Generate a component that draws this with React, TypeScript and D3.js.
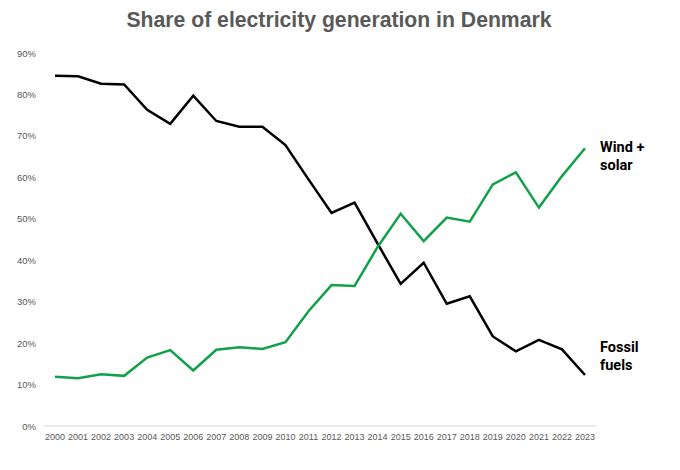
import * as d3 from 'd3';
import { useEffect, useRef } from 'react';

const years = d3.range(2000, 2024);
const fossil = [84.5, 84.4, 82.6, 82.4, 76.3, 72.9, 79.7, 73.6, 72.2, 72.2, 67.8, 59.5, 51.4, 53.9, 44.0, 34.3, 39.4, 29.5, 31.3, 21.6, 18.0, 20.8, 18.5, 12.3];
const windSolar = [11.9, 11.5, 12.5, 12.1, 16.5, 18.3, 13.4, 18.4, 19.0, 18.6, 20.2, 27.7, 34.0, 33.8, 43.2, 51.2, 44.6, 50.3, 49.3, 58.3, 61.2, 52.7, 60.3, 67.0];
const yTicks = [0, 10, 20, 30, 40, 50, 60, 70, 80, 90];

const W = 680;
const H = 470;

const drawChart = (container: HTMLElement) => {
  const x = d3.scaleLinear().domain([2000, 2023]).range([55, 585]);
  const y = d3.scaleLinear().domain([0, 90]).range([426, 53]);

  const svg = d3.select(container).append('svg')
    .attr('width', W)
    .attr('height', H)
    .style('display', 'block')
    .style('font-family', 'Arial, "Liberation Sans", sans-serif');

  svg.append('text')
    .attr('x', 339)
    .attr('y', 27)
    .attr('text-anchor', 'middle')
    .attr('font-size', 21.2)
    .attr('font-weight', 'bold')
    .attr('fill', '#595959')
    .text('Share of electricity generation in Denmark');

  // y labels, no grid
  svg.append('g')
    .selectAll('text')
    .data(yTicks)
    .join('text')
    .attr('x', 36)
    .attr('y', d => y(d) + 3.5)
    .attr('text-anchor', 'end')
    .attr('font-size', 9.5)
    .attr('fill', '#595959')
    .text(d => `${d}%`);

  svg.append('line')
    .attr('x1', 44).attr('x2', 596)
    .attr('y1', y(0)).attr('y2', y(0))
    .attr('stroke', '#e3e3e3')
    .attr('stroke-width', 1.5);

  svg.append('g')
    .selectAll('text')
    .data(years)
    .join('text')
    .attr('x', d => x(d))
    .attr('y', 440)
    .attr('text-anchor', 'middle')
    .attr('font-size', 9)
    .attr('fill', '#595959')
    .text(d => d);

  const line = d3.line<number>()
    .x((d, i) => x(years[i]))
    .y(d => y(d));

  svg.append('path')
    .attr('fill', 'none')
    .attr('stroke', '#000')
    .attr('stroke-width', 2.5)
    .attr('d', line(fossil));

  svg.append('path')
    .attr('fill', 'none')
    .attr('stroke', '#12a14b')
    .attr('stroke-width', 2.5)
    .attr('d', line(windSolar));

  const labels = [
    { lines: ['Wind +', 'solar'], top: 147 },
    { lines: ['Fossil', 'fuels'], top: 347 },
  ];
  labels.forEach(l => {
    l.lines.forEach((t, i) => {
      svg.append('text')
        .attr('x', 600)
        .attr('y', l.top + 5 + i * 18)
        .attr('font-family', 'Roboto, sans-serif')
        .attr('font-size', 14.5)
        .attr('font-weight', 'bold')
        .attr('fill', '#000')
        .text(t);
    });
  });

  return svg.node();
};

export default function App() {
  const domRef = useRef<HTMLDivElement>(null);
  useEffect(() => {
    if (domRef.current) {
      drawChart(domRef.current);
    }
    return () => {
      d3.select(domRef.current).selectAll('svg').remove();
    };
  }, [domRef]);
  return <div ref={domRef} style={{ margin: -8 }}></div>;
}
